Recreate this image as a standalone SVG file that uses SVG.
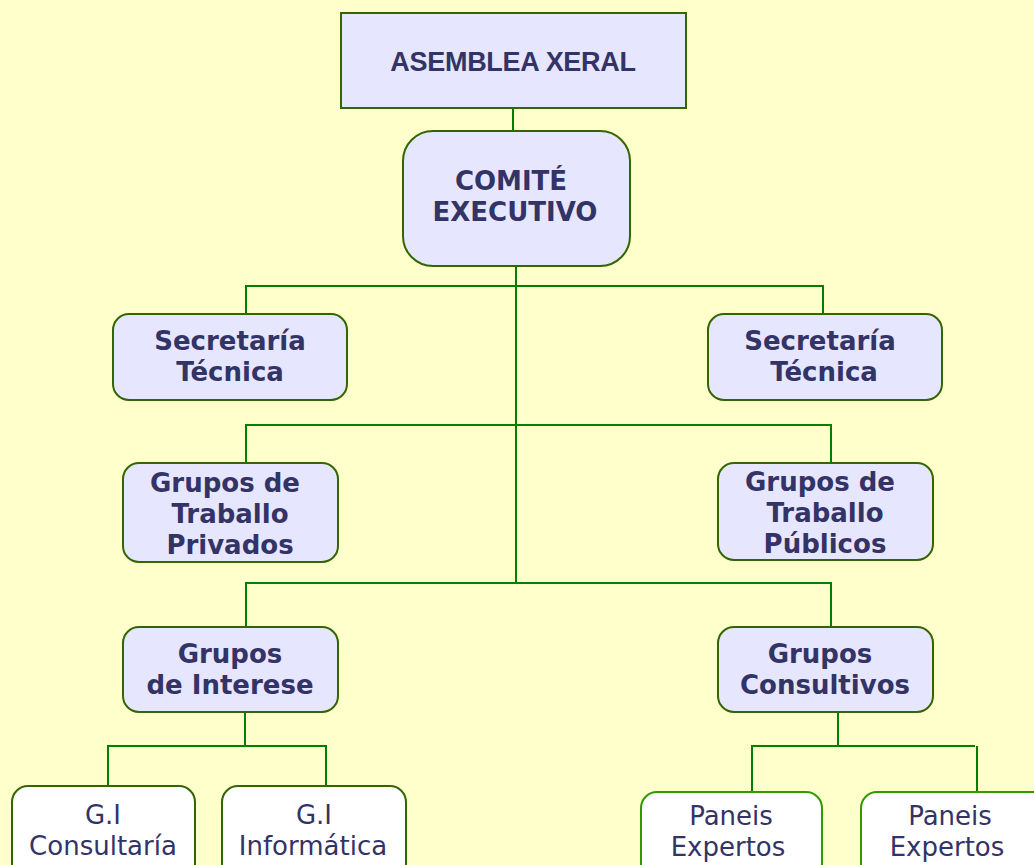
<svg xmlns="http://www.w3.org/2000/svg" width="1034" height="865" viewBox="0 0 1034 865">
<style>
.bg{fill:#FFFFCC}
.box{fill:#E6E6FF;stroke:#336600;stroke-width:2}
.wbox{fill:#FFFFFF;stroke:#336600;stroke-width:2}
.gbox{fill:#FFFFFF;stroke:#339900;stroke-width:2}
.conn{fill:none;stroke:#008000;stroke-width:2}
.t{font-family:"DejaVu Sans",sans-serif;font-size:26px;font-weight:bold;fill:#333366;text-anchor:middle}
.n{font-family:"DejaVu Sans",sans-serif;font-size:26px;fill:#333366;text-anchor:middle}
.a{font-family:"Liberation Sans",Arial,sans-serif;font-size:27px;font-weight:bold;fill:#333366;text-anchor:middle;letter-spacing:-0.3px}
</style>
<rect class="bg" x="0" y="0" width="1034" height="865"/>
<g id="connectors">
<path class="conn" d="M513 108V131"/>
<path class="conn" d="M516 266V583"/>
<path class="conn" d="M246 314V286H823V314"/>
<path class="conn" d="M246 463V425H831V463"/>
<path class="conn" d="M246 627V583H831V627"/>
<path class="conn" d="M245 712V746"/>
<path class="conn" d="M108 786V746H326V786"/>
<path class="conn" d="M838 712V746"/>
<path class="conn" d="M752 792V746H975"/>
<path class="conn" d="M977 746V792"/>
</g>
<g id="asemblea">
<rect class="box" x="341" y="13" width="345" height="95"/>
<text class="a" x="513" y="71">ASEMBLEA XERAL</text>
</g>
<g id="comite">
<rect class="box" x="403" y="131" width="227" height="135" rx="30"/>
<text class="t" x="511" y="190">COMITÉ</text>
<text class="t" x="515" y="221">EXECUTIVO</text>
</g>
<g id="sec-left">
<rect class="box" x="113" y="314" width="234" height="86" rx="16"/>
<text class="t" x="230" y="350">Secretaría</text>
<text class="t" x="230" y="381">Técnica</text>
</g>
<g id="sec-right">
<rect class="box" x="708" y="314" width="234" height="86" rx="16"/>
<text class="t" x="820" y="350">Secretaría</text>
<text class="t" x="824" y="381">Técnica</text>
</g>
<g id="gt-privados">
<rect class="box" x="123" y="463" width="215" height="99" rx="16"/>
<text class="t" x="225" y="492">Grupos de</text>
<text class="t" x="230" y="523">Traballo</text>
<text class="t" x="230" y="554">Privados</text>
</g>
<g id="gt-publicos">
<rect class="box" x="718" y="463" width="215" height="97" rx="16"/>
<text class="t" x="820" y="491">Grupos de</text>
<text class="t" x="825" y="522">Traballo</text>
<text class="t" x="825" y="553">Públicos</text>
</g>
<g id="g-interese">
<rect class="box" x="123" y="627" width="215" height="85" rx="16"/>
<text class="t" x="230" y="663">Grupos</text>
<text class="t" x="230" y="694">de Interese</text>
</g>
<g id="g-consultivos">
<rect class="box" x="718" y="627" width="215" height="85" rx="16"/>
<text class="t" x="820" y="663">Grupos</text>
<text class="t" x="825" y="694">Consultivos</text>
</g>
<g id="gi-consultaria">
<rect class="wbox" x="12" y="786" width="183" height="95" rx="16"/>
<text class="n" x="103" y="824">G.I</text>
<text class="n" x="103" y="855">Consultaría</text>
</g>
<g id="gi-informatica">
<rect class="wbox" x="222" y="786" width="184" height="95" rx="16"/>
<text class="n" x="314" y="824">G.I</text>
<text class="n" x="313" y="855">Informática</text>
</g>
<g id="paneis-1">
<rect class="gbox" x="641" y="792" width="181" height="95" rx="16"/>
<text class="n" x="731" y="825">Paneis</text>
<text class="n" x="728" y="856">Expertos</text>
</g>
<g id="paneis-2">
<rect class="gbox" x="861" y="792" width="190" height="95" rx="16"/>
<text class="n" x="950" y="825">Paneis</text>
<text class="n" x="947" y="856">Expertos</text>
</g>
</svg>
